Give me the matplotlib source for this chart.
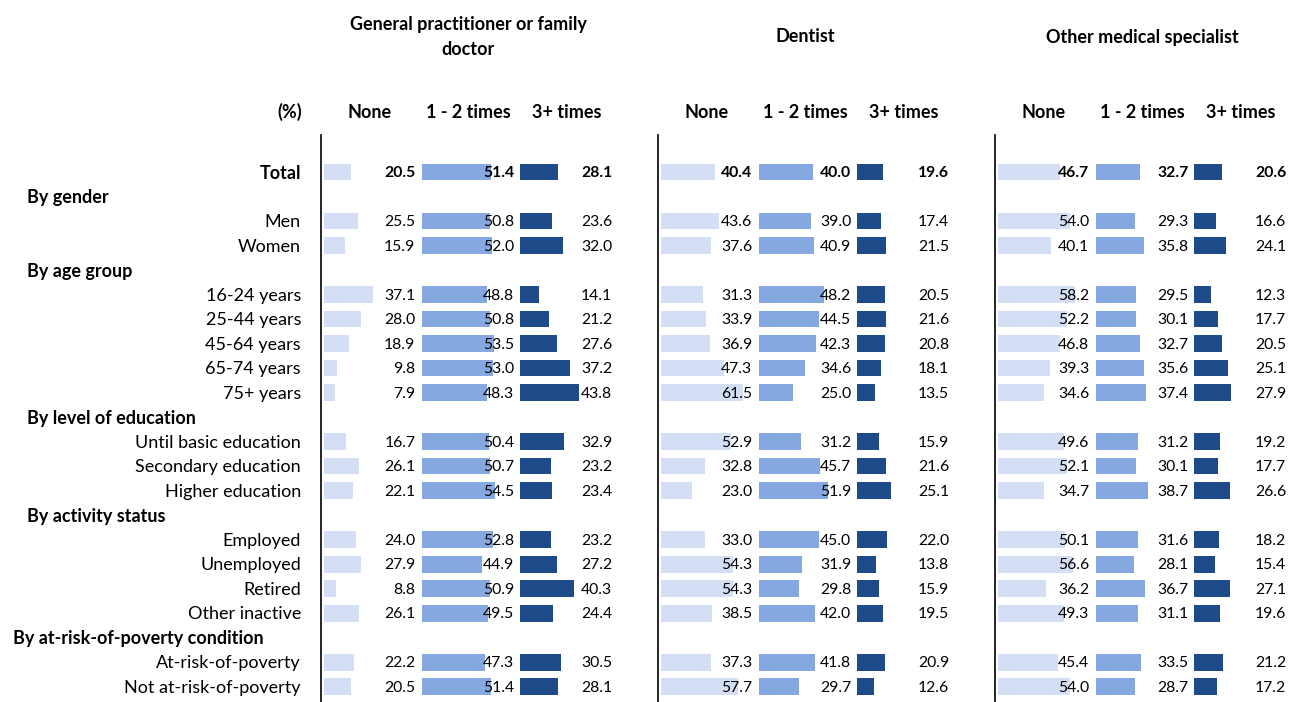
import matplotlib.pyplot as plt
import matplotlib.transforms as mtransforms

plt.rcParams['font.family'] = ['Lato', 'DejaVu Sans']

# rows: headers (bold, left) and categories (right aligned)
rows = ["Total",
        "By gender", "Men", "Women",
        "By age group", "16-24 years", "25-44 years", "45-64 years", "65-74 years", "75+ years",
        "By level of education", "Until basic education", "Secondary education", "Higher education",
        "By activity status", "Employed", "Unemployed", "Retired", "Other inactive",
        "By at-risk-of-poverty condition", "At-risk-of-poverty", "Not at-risk-of-poverty"]
headers = ["By gender", "By age group", "By level of education",
           "By activity status", "By at-risk-of-poverty condition"]

panels = ["General practitioner or family\ndoctor", "Dentist", "Other medical specialist"]
series = ["None", "1 - 2 times", "3+ times"]

# values for Total + 17 categories, in row order
gp_none = [20.5, 25.5, 15.9, 37.1, 28.0, 18.9, 9.8, 7.9, 16.7, 26.1, 22.1, 24.0, 27.9, 8.8, 26.1, 22.2, 20.5]
gp_12 = [51.4, 50.8, 52.0, 48.8, 50.8, 53.5, 53.0, 48.3, 50.4, 50.7, 54.5, 52.8, 44.9, 50.9, 49.5, 47.3, 51.4]
gp_3p = [28.1, 23.6, 32.0, 14.1, 21.2, 27.6, 37.2, 43.8, 32.9, 23.2, 23.4, 23.2, 27.2, 40.3, 24.4, 30.5, 28.1]

dent_none = [40.4, 43.6, 37.6, 31.3, 33.9, 36.9, 47.3, 61.5, 52.9, 32.8, 23.0, 33.0, 54.3, 54.3, 38.5, 37.3, 57.7]
dent_12 = [40.0, 39.0, 40.9, 48.2, 44.5, 42.3, 34.6, 25.0, 31.2, 45.7, 51.9, 45.0, 31.9, 29.8, 42.0, 41.8, 29.7]
dent_3p = [19.6, 17.4, 21.5, 20.5, 21.6, 20.8, 18.1, 13.5, 15.9, 21.6, 25.1, 22.0, 13.8, 15.9, 19.5, 20.9, 12.6]

spec_none = [46.7, 54.0, 40.1, 58.2, 52.2, 46.8, 39.3, 34.6, 49.6, 52.1, 34.7, 50.1, 56.6, 36.2, 49.3, 45.4, 54.0]
spec_12 = [32.7, 29.3, 35.8, 29.5, 30.1, 32.7, 35.6, 37.4, 31.2, 30.1, 38.7, 31.6, 28.1, 36.7, 31.1, 33.5, 28.7]
spec_3p = [20.6, 16.6, 24.1, 12.3, 17.7, 20.5, 25.1, 27.9, 19.2, 17.7, 26.6, 18.2, 15.4, 27.1, 19.6, 21.2, 17.2]

data = [[gp_none, gp_12, gp_3p], [dent_none, dent_12, dent_3p], [spec_none, spec_12, spec_3p]]
colors = ["#D4DFF5", "#86A8E0", "#1F4A89"]

W, H = 1290, 702
fig = plt.figure(figsize=(W / 100, H / 100), dpi=100)

FS_NUM = 11.3   # value labels
FS_TXT = 13     # row labels, headers, titles

data_y = [i for i, r in enumerate(rows) if r not in headers]

panel_x = [321, 658, 995]
bar_left = [2.3, 76.3, 150.0]
lab_right = [71.0, 145.5, 219.0]

for p, x0 in enumerate(panel_x):
    ax = fig.add_axes([x0 / W, 0, 335 / W, 567 / H])
    ax.set_xlim(0, 252)
    ax.set_ylim(21.63, -1.51)
    for s in range(3):
        vals = data[p][s]
        ax.barh(data_y, vals, left=bar_left[s], height=0.69, color=colors[s], zorder=1)
        for k, (y, v) in enumerate(zip(data_y, vals)):
            ax.text(lab_right[s], y + 0.05, f"{v:.1f}", ha="right", va="center", fontsize=FS_NUM,
                    fontweight="bold" if k == 0 else "normal", zorder=3)
    for side in ["top", "right", "bottom"]:
        ax.spines[side].set_visible(False)
    ax.spines["left"].set_linewidth(1.2)
    ax.set_xticks([])
    ax.set_yticks([])
    ax.patch.set_alpha(0)

    # panel title and column headers
    fig.text((x0 + 147) / W, 1 - 37 / H, panels[p], ha="center", va="center",
             fontsize=FS_TXT, fontweight="bold", linespacing=1.6)
    for s, cx in enumerate([49, 147, 246]):
        fig.text((x0 + cx) / W, 1 - 112 / H, series[s], ha="center", va="center",
                 fontsize=FS_TXT, fontweight="bold")

    if p == 0:
        trans = mtransforms.blended_transform_factory(fig.transFigure, ax.transData)
        for i, r in enumerate(rows):
            if r in headers:
                hx = 13 if r == "By at-risk-of-poverty condition" else 27
                ax.text(hx / W, i + 0.05, r, transform=trans, ha="left", va="center",
                        fontsize=FS_TXT, fontweight="bold")
            else:
                ax.text(301 / W, i + 0.05, r, transform=trans, ha="right", va="center",
                        fontsize=FS_TXT, fontweight="bold" if r == "Total" else "normal")

fig.text(302 / W, 1 - 112 / H, "(%)", ha="right", va="center", fontsize=FS_TXT, fontweight="bold")

fig.savefig("out.png", dpi=100)
